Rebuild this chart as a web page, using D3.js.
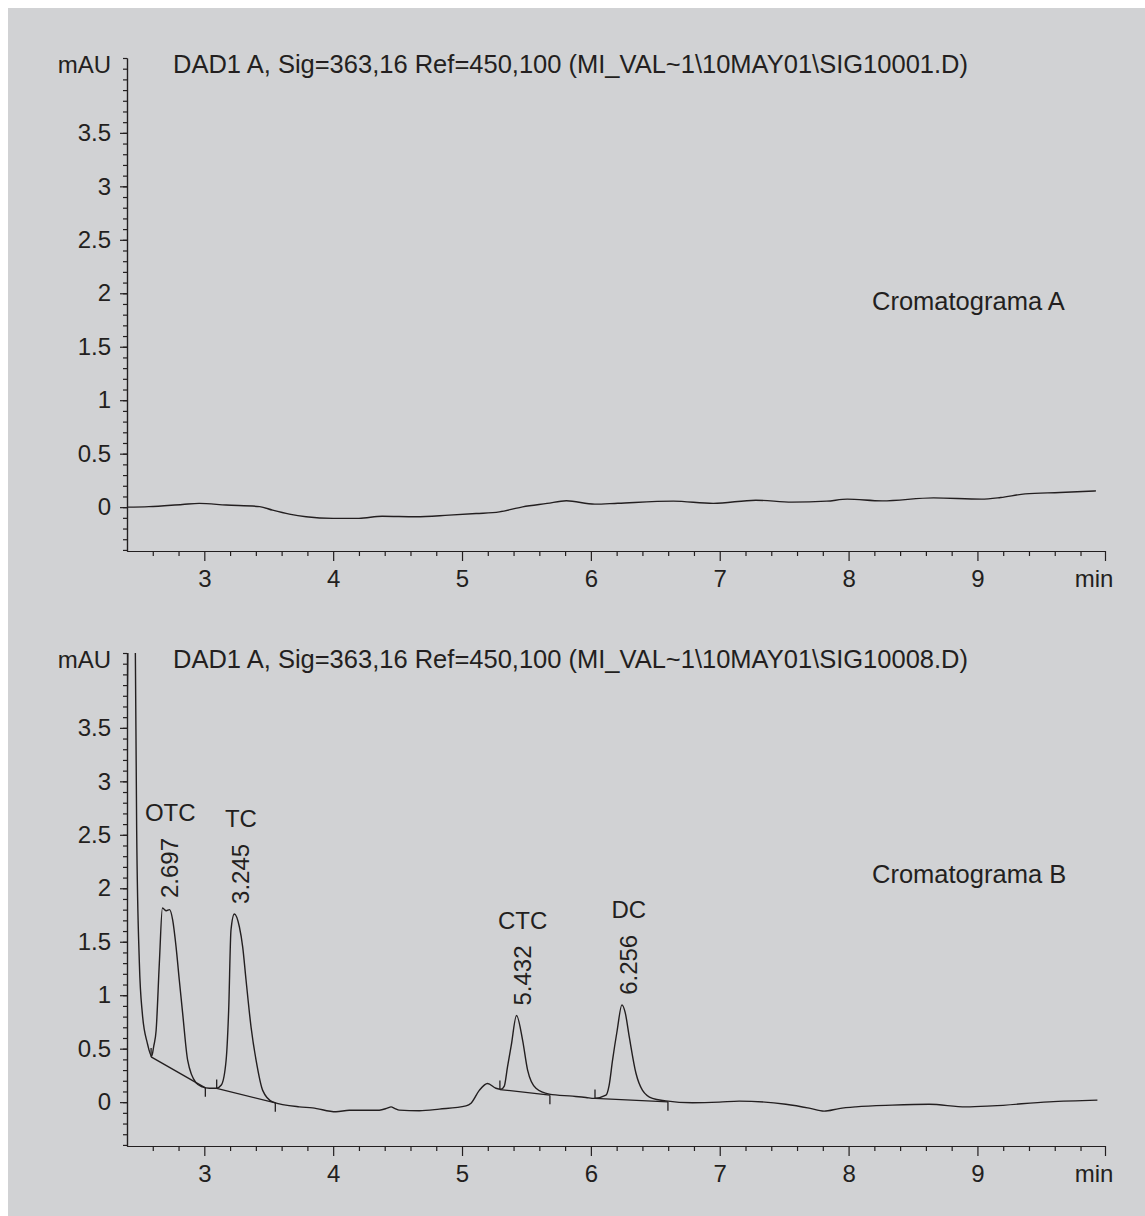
<!DOCTYPE html>
<html>
<head>
<meta charset="utf-8">
<script src="https://cdn.jsdelivr.net/npm/d3@7"></script>
<style>
body { margin: 0; background: #fff; }
text { font-family: "Liberation Sans", Arial, sans-serif; fill: #231f20; }
</style>
</head>
<body>
<svg width="1145" height="1216"></svg>
<script>
// chromatogram A (blank)
var timeA = [2.40, 2.57, 2.83, 2.96, 3.17, 3.43, 3.53, 3.66, 3.79, 4.00, 4.20, 4.38, 4.64, 4.90, 5.11, 5.29,
    5.47, 5.66, 5.81, 6.03, 6.21, 6.64, 6.95, 7.28, 7.56, 7.83, 7.99, 8.26, 8.66, 9.03, 9.18, 9.37, 9.64, 9.92];
var signalA = [0.00, 0.005, 0.025, 0.035, 0.02, 0.005, -0.028, -0.065, -0.09, -0.105, -0.105, -0.085, -0.09, -0.075, -0.06, -0.044,
    0.003, 0.035, 0.06, 0.028, 0.037, 0.056, 0.035, 0.065, 0.047, 0.056, 0.075, 0.059, 0.087, 0.075, 0.09, 0.124, 0.137, 0.152];

// chromatogram B (standards)
var timeB = [2.40, 2.41, 2.455, 2.463, 2.475, 2.496, 2.519, 2.558, 2.592, 2.607, 2.626, 2.651, 2.675, 2.705, 2.73,
    2.755, 2.781, 2.806, 2.832, 2.871, 2.936, 2.985, 3.039, 3.094, 3.132, 3.169, 3.189, 3.207, 3.233, 3.272,
    3.298, 3.324, 3.363, 3.402, 3.453, 3.53, 3.737, 3.84, 4.022, 4.125, 4.358, 4.42, 4.449, 4.48, 4.513,
    4.668, 4.824, 5.031, 5.07, 5.134, 5.198, 5.263, 5.302, 5.328, 5.353, 5.382, 5.423, 5.47, 5.509, 5.574,
    5.677, 5.858, 5.962, 6.026, 6.117, 6.142, 6.168, 6.204, 6.241, 6.266, 6.298, 6.35, 6.401, 6.478, 6.582,
    6.789, 6.996, 7.151, 7.513, 7.694, 7.81, 7.926, 8.056, 8.338, 8.625, 8.91, 9.114, 9.556, 9.931];
var signalB = [3.5, 4.6, 5.0, 4.5, 2.55, 1.30, 0.83, 0.55, 0.43, 0.52, 0.67, 1.30, 1.815, 1.79, 1.80,
    1.70, 1.45, 1.14, 0.83, 0.39, 0.18, 0.143, 0.13, 0.13, 0.16, 0.39, 0.86, 1.61, 1.76, 1.64,
    1.45, 1.14, 0.70, 0.39, 0.11, 0.003, -0.044, -0.053, -0.09, -0.075, -0.075, -0.056, -0.044, -0.06, -0.075,
    -0.08, -0.065, -0.035, -0.01, 0.11, 0.175, 0.13, 0.12, 0.15, 0.33, 0.53, 0.81, 0.58, 0.30, 0.13,
    0.075, 0.056, 0.044, 0.035, 0.065, 0.16, 0.39, 0.67, 0.91, 0.84, 0.61, 0.27, 0.11, 0.035, 0.012,
    -0.006, 0.0, 0.01, -0.02, -0.056, -0.084, -0.06, -0.044, -0.028, -0.02, -0.044, -0.035, 0.003, 0.019];

var peakNames = ["OTC", "TC", "CTC", "DC"];
var peakTimes = [2.697, 3.245, 5.432, 6.256];
// integration baselines: start time, start value, end time, end value
var peakStartT = [2.587, 3.096, 5.294, 6.032];
var peakStartV = [0.423, 0.128, 0.118, 0.035];
var peakEndT = [3.008, 3.551, 5.682, 6.598];
var peakEndV = [0.134, -0.006, 0.065, 0.003];

var yMajor = [0, 0.5, 1, 1.5, 2, 2.5, 3, 3.5];
var xMajor = [3, 4, 5, 6, 7, 8, 9];
var titles = ["DAD1 A, Sig=363,16 Ref=450,100 (MI_VAL~1\\10MAY01\\SIG10001.D)",
    "DAD1 A, Sig=363,16 Ref=450,100 (MI_VAL~1\\10MAY01\\SIG10008.D)"];
var labels = ["Cromatograma A", "Cromatograma B"];
var labelLevels = [1.84, 2.05];

var svg = d3.select("svg");
svg.append("rect").attr("x", 8).attr("y", 8).attr("width", 1137).attr("height", 1208).attr("fill", "#d1d2d4");

var xMin = 2.4, xMax = 9.99, yMin = -0.41, yMax = 4.2;
var x = d3.scaleLinear().domain([xMin, xMax]).range([127, 1105]);
var y = d3.scaleLinear().domain([yMin, yMax]).range([551, 58]);
var ink = "#231f20";

svg.append("clipPath").attr("id", "plot")
    .append("rect").attr("x", 127).attr("y", 58).attr("width", 978).attr("height", 493);

var line = d3.line()
    .x(function (d) { return x(d[0]); })
    .y(function (d) { return y(d[1]); })
    .curve(d3.curveMonotoneX);

function drawPanel(i, time, signal, dy) {
    var g = svg.append("g").attr("transform", "translate(0," + dy + ")");

    var minorY = d3.range(-4, 43).map(function (k) { return k / 10; });
    var minorX = d3.range(13, 50).map(function (k) { return k / 5; }).filter(function (v) { return Math.abs(v - Math.round(v)) > 0.01; });

    g.append("g").attr("transform", "translate(127,0)")
        .call(d3.axisLeft(y).tickValues(minorY).tickSize(4).tickSizeOuter(0).tickFormat(""));
    g.append("g").attr("transform", "translate(127,0)")
        .call(d3.axisLeft(y).tickValues(yMajor).tickSize(7).tickSizeOuter(0).tickPadding(9).tickFormat(d3.format("")));
    g.append("g").attr("transform", "translate(0,551)")
        .call(d3.axisBottom(x).tickValues(minorX).tickSize(5).tickSizeOuter(0).tickFormat(""));
    g.append("g").attr("transform", "translate(0,551)")
        .call(d3.axisBottom(x).tickValues(xMajor.concat([xMax])).tickSize(10).tickSizeOuter(0).tickPadding(9)
            .tickFormat(function (d) { return d === xMax ? "" : d; }));

    g.selectAll(".domain, .tick line").attr("stroke", ink).attr("stroke-width", 1.2);
    g.selectAll(".tick text").attr("font-size", 24).attr("fill", ink)
        .style("font-family", "'Liberation Sans', Arial, sans-serif");

    g.append("text").attr("x", 111).attr("y", 73).attr("text-anchor", "end").attr("font-size", 24).text("mAU");
    g.append("text").attr("x", 173).attr("y", 73).attr("font-size", 25.5).text(titles[i]);
    g.append("text").attr("x", 1094).attr("y", 587).attr("text-anchor", "middle").attr("font-size", 24).text("min");
    g.append("text").attr("x", 872).attr("y", y(labelLevels[i])).attr("font-size", 25.5).text(labels[i]);

    g.append("path")
        .datum(time.map(function (t, k) { return [t, signal[k]]; }))
        .attr("clip-path", "url(#plot)")
        .attr("d", line)
        .attr("fill", "none")
        .attr("stroke", ink)
        .attr("stroke-width", 1.4);
    return g;
}

drawPanel(0, timeA, signalA, 0);
var gB = drawPanel(1, timeB, signalB, 595);

// integration baselines with start/end marks
peakNames.forEach(function (name, k) {
    var x0 = x(peakStartT[k]), y0 = y(peakStartV[k]);
    var x1 = x(peakEndT[k]), y1 = y(peakEndV[k]);
    var pts = [[x0, y0 - 9, x0, y0], [x0, y0, x1, y1], [x1, y1, x1, y1 + 9]];
    pts.forEach(function (p) {
        gB.append("line").attr("x1", p[0]).attr("y1", p[1]).attr("x2", p[2]).attr("y2", p[3])
            .attr("stroke", ink).attr("stroke-width", 1.3);
    });

    var apex = d3.max(timeB, function (t, j) { return Math.abs(t - peakTimes[k]) < 0.07 ? signalB[j] : null; });
    var px = x(peakTimes[k]), py = y(apex) - 10;
    gB.append("text")
        .attr("transform", "translate(" + (px + 13) + "," + py + ") rotate(-90)")
        .attr("font-size", 24)
        .text(peakTimes[k].toFixed(3));
    gB.append("text")
        .attr("x", px + 5).attr("y", py - 77)
        .attr("text-anchor", "middle")
        .attr("font-size", 24)
        .text(name);
});
</script>
</body>
</html>
